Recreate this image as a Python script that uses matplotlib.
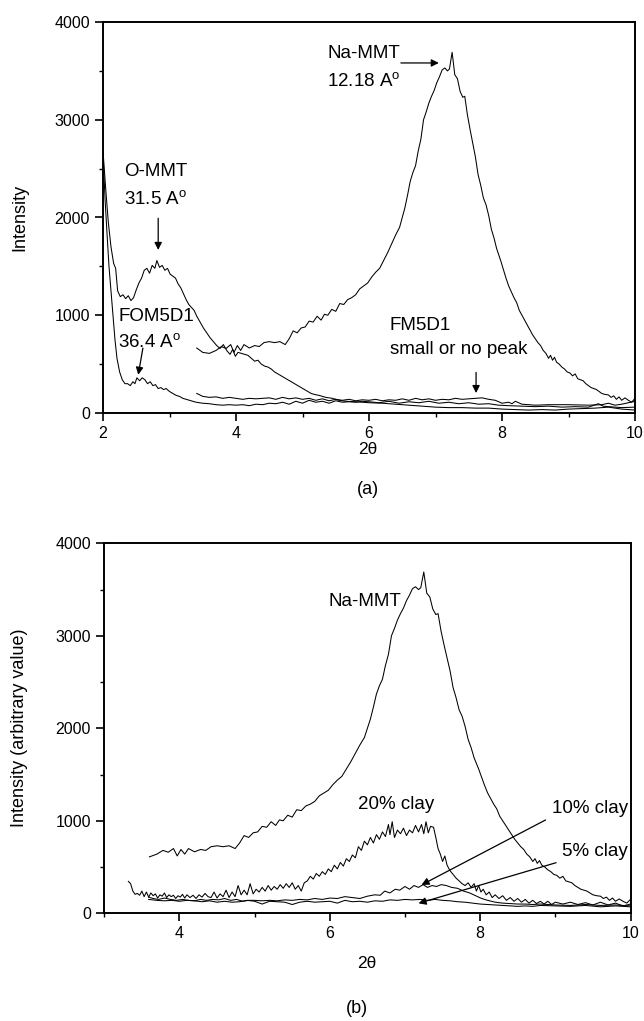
import matplotlib
matplotlib.use("Agg")
import matplotlib.pyplot as plt
from matplotlib.ticker import MultipleLocator

plt.rcParams['font.family'] = ['Liberation Sans', 'DejaVu Sans']
plt.rcParams['mathtext.fontset'] = 'custom'
plt.rcParams['mathtext.rm'] = 'Liberation Sans'

# ---------------- data: panel (a) ----------------
na_x = [3.41, 3.50, 3.60, 3.70, 3.78, 3.85, 3.92, 3.97, 4.02, 4.07, 4.12, 4.20, 4.28, 4.35, 4.42,
        4.50, 4.58, 4.66, 4.74, 4.80, 4.86, 4.92, 4.98, 5.04, 5.10, 5.16, 5.22, 5.28, 5.33, 5.38,
        5.44, 5.50, 5.56, 5.62, 5.68, 5.74, 5.80, 5.86, 5.92, 5.98, 6.04, 6.10, 6.16, 6.22, 6.28,
        6.34, 6.40, 6.46, 6.50, 6.54, 6.58, 6.62, 6.66, 6.70, 6.74, 6.78, 6.82, 6.86, 6.90, 6.94,
        6.98, 7.02, 7.06, 7.10, 7.14, 7.18, 7.21, 7.25, 7.29, 7.33, 7.37, 7.41, 7.44, 7.48, 7.52,
        7.56, 7.60, 7.64, 7.68, 7.72, 7.76, 7.80, 7.84, 7.88, 7.92, 7.95, 7.98, 8.02, 8.06, 8.10,
        8.14, 8.18, 8.22, 8.26, 8.30, 8.34, 8.38, 8.42, 8.46, 8.50, 8.54, 8.58, 8.62, 8.66, 8.70,
        8.73, 8.76, 8.79, 8.82, 8.86, 8.90, 8.94, 8.98, 9.02, 9.06, 9.10, 9.14, 9.18, 9.22, 9.26,
        9.30, 9.34, 9.38, 9.42, 9.46, 9.50, 9.55, 9.60, 9.64, 9.68, 9.72, 9.76, 9.80, 9.85, 9.90,
        9.95, 10.0]
na_y = [665, 620, 610, 640, 680, 660, 700, 620, 690, 640, 700, 665, 690, 680, 720,
        730, 720, 730, 700, 760, 840, 820, 870, 880, 940, 930, 990, 950, 1010, 1000,
        1060, 1040, 1120, 1110, 1160, 1180, 1210, 1270, 1300, 1330, 1390, 1440, 1480, 1560, 1640,
        1730, 1820, 1900, 2000, 2100, 2230, 2370, 2460, 2530, 2680, 2800, 3000, 3080, 3170, 3240,
        3300, 3380, 3440, 3510, 3530, 3500, 3520, 3690, 3460, 3420, 3290, 3230, 3240, 3050, 2900,
        2760, 2620, 2440, 2330, 2200, 2130, 2020, 1880, 1790, 1680, 1620, 1560, 1470, 1380, 1300,
        1240, 1180, 1130, 1050, 1000, 950, 900, 850, 800, 760, 720, 690, 640, 610, 560,
        590, 540, 570, 520, 500, 470, 450, 420, 410, 380, 400, 350, 340, 330, 300,
        280, 260, 250, 240, 220, 200, 190, 185, 160, 175, 140, 165, 130, 155, 130,
        110, 150]

ommt_x = [2.00, 2.04, 2.08, 2.12, 2.16, 2.19, 2.22, 2.26, 2.30, 2.34, 2.38, 2.42, 2.46, 2.50, 2.54,
          2.58, 2.62, 2.66, 2.70, 2.74, 2.78, 2.81, 2.85, 2.89, 2.93, 2.97, 3.01, 3.05, 3.09, 3.13,
          3.17, 3.21, 3.25, 3.29, 3.33, 3.37, 3.41, 3.46, 3.51, 3.56, 3.61, 3.66, 3.71, 3.76, 3.81,
          3.86, 3.91, 3.95, 3.99, 4.03, 4.08, 4.13, 4.18, 4.23, 4.28, 4.33, 4.38, 4.43, 4.48, 4.53,
          4.58, 4.63, 4.68, 4.73, 4.78, 4.83, 4.88, 4.93, 4.98, 5.03, 5.08, 5.13, 5.18, 5.25, 5.35,
          5.45, 5.55, 5.65, 5.80, 6.00, 6.20, 6.40, 6.60, 6.80, 7.00, 7.20, 7.40, 7.60, 7.80, 8.00,
          8.20, 8.40, 8.60, 8.80, 9.00, 9.20, 9.40, 9.60, 9.80, 10.0]
ommt_y = [2680, 2300, 1950, 1700, 1530, 1480, 1250, 1190, 1210, 1170, 1200, 1150, 1180, 1260, 1330,
          1380, 1460, 1480, 1430, 1510, 1480, 1560, 1490, 1510, 1460, 1480, 1420, 1400, 1380, 1320,
          1280, 1220, 1160, 1110, 1080, 1050, 990, 930, 870, 820, 770, 730, 690, 660, 700,
          640, 600, 650, 580, 620, 610, 600, 590, 560, 530, 540, 500, 480, 470, 450,
          420, 400, 380, 360, 340, 320, 300, 280, 260, 240, 220, 200, 190, 180, 160,
          150, 130, 120, 115, 105, 100, 90, 80, 70, 60, 55, 55, 50, 50, 40,
          35, 30, 35, 30, 40, 45, 50, 60, 40, 30]

fom_x = [2.00, 2.03, 2.06, 2.09, 2.12, 2.15, 2.18, 2.21, 2.25, 2.29, 2.33, 2.37, 2.41, 2.45, 2.48,
         2.51, 2.55, 2.59, 2.63, 2.67, 2.71, 2.75, 2.79, 2.83, 2.87, 2.91, 2.95, 3.00, 3.05, 3.10,
         3.15, 3.20, 3.25, 3.30, 3.35, 3.40, 3.50, 3.60, 3.70, 3.80, 3.90, 4.00, 4.10, 4.20, 4.30,
         4.40, 4.50, 4.60, 4.70, 4.80, 4.90, 5.00, 5.10, 5.20, 5.30, 5.40, 5.50, 5.60, 5.70, 5.80,
         5.90, 6.00, 6.15, 6.30, 6.45, 6.60, 6.75, 6.90, 7.05, 7.20, 7.35, 7.50, 7.65, 7.80, 7.95,
         8.10, 8.30, 8.50, 8.70, 8.90, 9.10, 9.30, 9.45, 9.52, 9.60, 9.80, 10.0]
fom_y = [2650, 2200, 1840, 1500, 1250, 1000, 750, 560, 420, 340, 300, 300, 280, 320, 300,
         360, 330, 360, 340, 300, 320, 280, 290, 250, 260, 240, 250, 220, 200, 180,
         170, 150, 140, 130, 120, 110, 100, 95, 85, 80, 85, 80, 85, 75, 90,
         85, 100, 95, 110, 90, 120, 100, 130, 110, 120, 100, 125, 110, 115, 110,
         120, 115, 105, 120, 100, 115, 105, 120, 100, 110, 95, 105, 90, 95, 80,
         75, 70, 65, 70, 60, 65, 60, 95, 70, 65, 55, 60]

fm_x = [3.41, 3.50, 3.60, 3.70, 3.80, 3.90, 4.00, 4.10, 4.20, 4.30, 4.40, 4.50, 4.60, 4.70, 4.80,
        4.90, 5.00, 5.10, 5.20, 5.30, 5.40, 5.50, 5.60, 5.70, 5.80, 5.90, 6.00, 6.10, 6.20, 6.30,
        6.40, 6.50, 6.60, 6.70, 6.80, 6.90, 7.00, 7.10, 7.20, 7.30, 7.40, 7.50, 7.60, 7.70, 7.80,
        7.90, 8.00, 8.10, 8.15, 8.20, 8.30, 8.50, 8.70, 9.00, 9.30, 9.50, 9.60, 9.70, 9.80, 10.0]
fm_y = [200, 170, 160, 165, 150, 160, 150, 140, 150, 145, 150, 155, 140, 160, 145,
        155, 140, 150, 130, 145, 125, 140, 130, 140, 125, 135, 130, 140, 125, 135,
        130, 145, 130, 150, 135, 145, 130, 140, 135, 150, 140, 145, 150, 155, 140,
        130, 100, 110, 95, 120, 90, 80, 85, 85, 80, 85, 100, 80, 90, 120]

# ---------------- data: panel (b) ----------------
c20_x = [3.32, 3.35, 3.38, 3.41, 3.44, 3.47, 3.50, 3.53, 3.56, 3.59, 3.62, 3.65, 3.68, 3.71, 3.74,
         3.77, 3.80, 3.83, 3.86, 3.89, 3.92, 3.95, 3.98, 4.01, 4.04, 4.07, 4.10, 4.14, 4.18, 4.22,
         4.26, 4.30, 4.34, 4.38, 4.42, 4.46, 4.50, 4.54, 4.58, 4.62, 4.66, 4.70, 4.74, 4.78, 4.82,
         4.86, 4.90, 4.94, 4.98, 5.02, 5.06, 5.10, 5.14, 5.18, 5.22, 5.26, 5.30, 5.34, 5.38, 5.42,
         5.46, 5.50, 5.54, 5.58, 5.62, 5.66, 5.70, 5.74, 5.78, 5.82, 5.86, 5.90, 5.94, 5.98, 6.02,
         6.06, 6.10, 6.14, 6.18, 6.22, 6.26, 6.30, 6.34, 6.38, 6.42, 6.46, 6.50, 6.54, 6.58, 6.62,
         6.66, 6.70, 6.74, 6.78, 6.80, 6.83, 6.86, 6.90, 6.94, 6.98, 7.02, 7.06, 7.10, 7.14, 7.18,
         7.22, 7.25, 7.28, 7.31, 7.34, 7.38, 7.41, 7.44, 7.47, 7.50, 7.53, 7.56, 7.60, 7.64, 7.68,
         7.72, 7.76, 7.80, 7.84, 7.88, 7.92, 7.95, 7.98, 8.01, 8.04, 8.08, 8.12, 8.16, 8.20, 8.25,
         8.30, 8.35, 8.40, 8.45, 8.50, 8.55, 8.60, 8.65, 8.70, 8.75, 8.80, 8.85, 8.90, 8.95, 9.00,
         9.10, 9.20, 9.30, 9.40, 9.50, 9.60, 9.70, 9.80, 9.90, 10.0]
c20_y = [345, 320, 240, 205, 215, 195, 240, 180, 230, 175, 220, 190, 210, 165, 200,
         185, 220, 170, 200, 180, 195, 160, 190, 175, 205, 165, 200, 170, 195, 160,
         200, 175, 215, 180, 170, 230, 165, 210, 180, 250, 170, 230, 180, 300, 200,
         250, 200, 320, 210, 260, 230, 280, 240, 300, 250, 290, 260, 310, 270, 320,
         280, 330, 260, 300, 240, 330, 350, 400, 370, 430, 400, 450, 420, 480, 450,
         520, 480, 550, 510, 590, 560, 630, 600, 720, 680, 780, 740, 820, 760, 850,
         800, 880, 830, 960, 850, 990, 820, 900, 860, 920, 840, 900, 870, 950, 880,
         960, 860, 990, 870, 940, 930, 820, 700, 640, 560, 620, 520, 460, 420, 380,
         350, 320, 300, 330, 280, 320, 240, 300, 230, 260, 200, 230, 170, 200, 160,
         190, 140, 170, 130, 160, 120, 150, 110, 140, 105, 130, 100, 130, 95, 120,
         100, 120, 95, 115, 90, 120, 90, 110, 80, 100]

c10_x = [3.59, 3.65, 3.72, 3.80, 3.88, 3.96, 4.04, 4.12, 4.20, 4.28, 4.36, 4.44, 4.52, 4.60, 4.68,
         4.76, 4.84, 4.92, 5.00, 5.10, 5.20, 5.30, 5.40, 5.50, 5.60, 5.70, 5.80, 5.90, 6.00, 6.10,
         6.20, 6.30, 6.40, 6.50, 6.60, 6.67, 6.73, 6.80, 6.87, 6.93, 7.00, 7.06, 7.12, 7.18, 7.24,
         7.30, 7.36, 7.42, 7.48, 7.55, 7.62, 7.70, 7.78, 7.86, 7.94, 8.02, 8.10, 8.20, 8.30, 8.40,
         8.50, 8.60, 8.70, 8.80, 8.90, 9.00, 9.20, 9.40, 9.60, 9.80, 10.0]
c10_y = [175, 160, 150, 165, 150, 140, 150, 140, 135, 150, 140, 150, 145, 160, 140,
         150, 130, 140, 140, 135, 140, 135, 145, 140, 150, 145, 160, 150, 165, 160,
         180, 170, 160, 185, 200, 195, 240, 220, 260, 250, 290, 260, 300, 280, 310,
         280, 300, 290, 310, 300, 280, 270, 240, 220, 190, 160, 140, 120, 110, 105,
         100, 100, 95, 100, 95, 90, 85, 95, 85, 90, 80]

c5_x = [3.59, 3.70, 3.80, 3.90, 4.00, 4.10, 4.20, 4.30, 4.40, 4.50, 4.60, 4.70, 4.80, 4.90, 5.00,
        5.10, 5.20, 5.30, 5.40, 5.50, 5.60, 5.70, 5.80, 5.90, 6.00, 6.10, 6.20, 6.30, 6.40, 6.50,
        6.60, 6.70, 6.80, 6.90, 7.00, 7.10, 7.20, 7.30, 7.40, 7.50, 7.60, 7.70, 7.80, 7.90, 8.00,
        8.10, 8.20, 8.30, 8.40, 8.50, 8.60, 8.70, 8.80, 9.00, 9.20, 9.40, 9.60, 9.80, 10.0]
c5_y = [150, 140, 135, 140, 130, 140, 135, 125, 135, 120, 130, 120, 125, 140, 130,
        100, 130, 125, 120, 95, 120, 130, 120, 125, 130, 110, 140, 125, 130, 120,
        135, 130, 145, 140, 150, 145, 150, 140, 150, 140, 135, 125, 120, 110, 100,
        95, 90, 85, 80, 75, 80, 75, 85, 80, 75, 85, 70, 80, 70]

# ---------------- figure ----------------
W, H = 644, 1021
fig = plt.figure(figsize=(W / 100, H / 100), dpi=100)

def px_axes(l, t, r, b):
    return [l / W, 1 - b / H, (r - l) / W, (b - t) / H]

ax1 = fig.add_axes(px_axes(103, 22, 635, 413))
ax2 = fig.add_axes(px_axes(104.3, 543.3, 630.5, 913.3))

lw_curve = 0.75
for ax in (ax1, ax2):
    for sp in ax.spines.values():
        sp.set_linewidth(1.4)
    ax.tick_params(which='major', direction='out', length=5.5, width=1.2, labelsize=11.5, pad=4,
                   top=False, right=False)
    ax.tick_params(which='minor', direction='out', length=3, width=1.0, top=False, right=False)
    ax.yaxis.set_major_locator(MultipleLocator(1000))
    ax.yaxis.set_minor_locator(MultipleLocator(500))
    ax.xaxis.set_major_locator(MultipleLocator(2))
    ax.xaxis.set_minor_locator(MultipleLocator(1))
    ax.set_ylim(0, 4000)

ax1.set_xlim(2, 10)
ax2.set_xlim(3, 10)

# panel (a) curves
for xs, ys in ((na_x, na_y), (ommt_x, ommt_y), (fom_x, fom_y), (fm_x, fm_y)):
    ax1.plot(xs, ys, color='black', lw=lw_curve)

# panel (b) curves
na_b_x = [x for x in na_x if x >= 3.6]
na_b_y = [y for x, y in zip(na_x, na_y) if x >= 3.6]
for xs, ys in ((na_b_x, na_b_y), (c20_x, c20_y), (c10_x, c10_y), (c5_x, c5_y)):
    ax2.plot(xs, ys, color='black', lw=lw_curve)

fs = 13.5
arrow = dict(arrowstyle='-|>', color='black', lw=0.9, mutation_scale=11, shrinkA=0, shrinkB=0)
sup = r"A$^{\mathrm{o}}$"

# annotations (a)
ax1.text(5.37, 3680, "Na-MMT", fontsize=fs, va='center', ha='left')
ax1.text(5.37, 3394, "12.18 " + sup, fontsize=fs, va='center', ha='left')
ax1.annotate("", xy=(7.05, 3581), xytext=(6.48, 3581), arrowprops=arrow)

ax1.text(2.32, 2468, "O-MMT", fontsize=fs, va='center', ha='left')
ax1.text(2.32, 2186, "31.5 " + sup, fontsize=fs, va='center', ha='left')
ax1.annotate("", xy=(2.83, 1668), xytext=(2.83, 1992), arrowprops=arrow)

ax1.text(2.23, 987, "FOM5D1", fontsize=fs, va='center', ha='left')
ax1.text(2.23, 715, "36.4 " + sup, fontsize=fs, va='center', ha='left')
ax1.annotate("", xy=(2.53, 391), xytext=(2.60, 664), arrowprops=arrow)

ax1.text(6.31, 892, "FM5D1", fontsize=fs, va='center', ha='left')
ax1.text(6.31, 647, "small or no peak", fontsize=fs, va='center', ha='left')
ax1.annotate("", xy=(7.61, 204), xytext=(7.61, 415), arrowprops=arrow)

# annotations (b)
ax2.text(5.98, 3369, "Na-MMT", fontsize=fs, va='center', ha='left')
ax2.text(6.38, 1171, "20% clay", fontsize=fs, va='center', ha='left')
ax2.text(8.95, 1138, "10% clay", fontsize=fs, va='center', ha='left')
ax2.annotate("", xy=(7.22, 307), xytext=(8.87, 1009), arrowprops=arrow)
ax2.text(9.09, 663, "5% clay", fontsize=fs, va='center', ha='left')
ax2.annotate("", xy=(7.18, 108), xytext=(9.01, 547), arrowprops=arrow)

# axis labels and panel labels (figure pixel positions)
def ftext(x, y, s, **kw):
    fig.text(x / W, 1 - y / H, s, ha='center', va='center', **kw)

ftext(20, 217, "Intensity", fontsize=13, rotation=90)
ftext(20, 728, "Intensity (arbitrary value)", fontsize=13, rotation=90)
ftext(368, 449, "2θ", fontsize=12.5)
ftext(367, 963, "2θ", fontsize=12.5)
ftext(368, 489, "(a)", fontsize=13)
ftext(357, 1008, "(b)", fontsize=13)

fig.savefig("out.png", dpi=100)
